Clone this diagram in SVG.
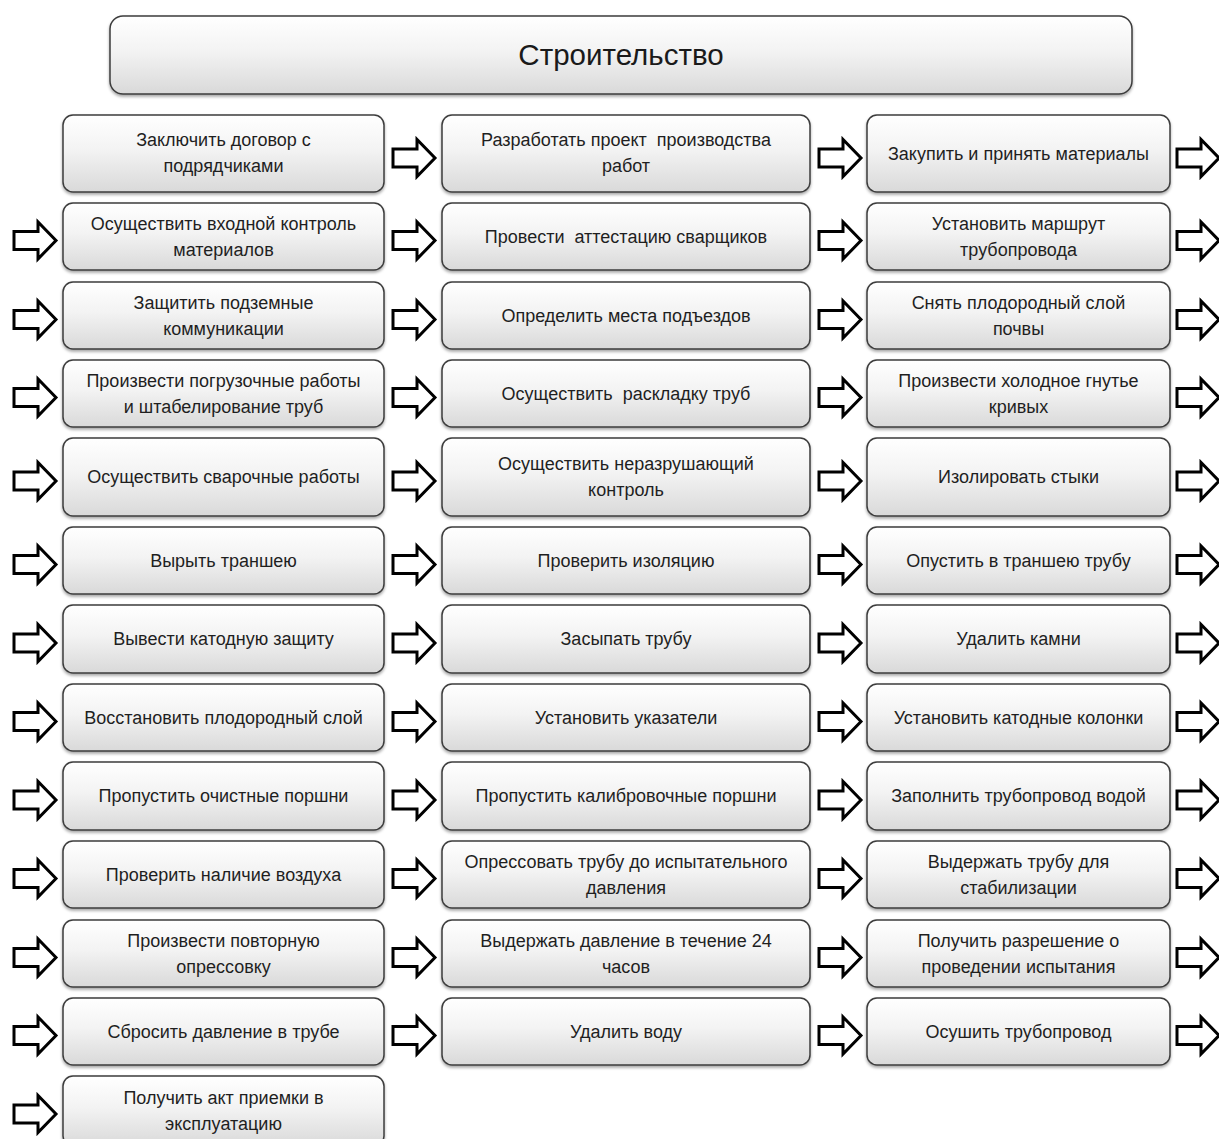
<svg xmlns="http://www.w3.org/2000/svg" xmlns:xlink="http://www.w3.org/1999/xlink" width="1219" height="1139" viewBox="0 0 1219 1139">
<defs>
<linearGradient id="g" x1="0" y1="0" x2="0" y2="1">
<stop offset="0" stop-color="#ffffff"/>
<stop offset="0.45" stop-color="#f3f3f3"/>
<stop offset="1" stop-color="#d9d9d9"/>
</linearGradient>
<filter id="sh" x="-5%" y="-10%" width="110%" height="125%">
<feDropShadow dx="0" dy="2" stdDeviation="1.5" flood-color="#000" flood-opacity="0.35"/>
</filter>
<path id="arr" d="M0,-9 H24 V-18.5 L42,0 L24,18.5 V9 H0 Z" fill="#fff" stroke="#000" stroke-width="3" stroke-linejoin="miter"/>
</defs>
<style>
.box{fill:url(#g);stroke:#3c3c3c;stroke-width:1.5;filter:url(#sh)}
.t{font-family:"Liberation Sans",Arial,sans-serif;font-size:18px;fill:#1f1f1f;text-anchor:middle}
.h{font-family:"Liberation Sans",Arial,sans-serif;font-size:29.5px;fill:#1a1a1a;text-anchor:middle}
</style>
<rect width="1219" height="1139" fill="#fff"/>

<g id="header"><rect class="box" x="110" y="16" width="1022" height="78" rx="13"/><text class="h" x="621" y="65">Строительство</text></g>

<g id="nodes">
<g id="n1-1"><rect class="box" x="63" y="115" width="321" height="77" rx="10"/><text class="t" x="223.5" y="146">Заключить договор с</text><text class="t" x="223.5" y="172">подрядчиками</text></g>
<g id="n1-2"><rect class="box" x="442" y="115" width="368" height="77" rx="10"/><text class="t" x="626" y="146" xml:space="preserve">Разработать проект  производства</text><text class="t" x="626" y="172">работ</text></g>
<g id="n1-3"><rect class="box" x="867" y="115" width="303" height="77" rx="10"/><text class="t" x="1018.5" y="159.5">Закупить и принять материалы</text></g>

<g id="n2-1"><rect class="box" x="63" y="203" width="321" height="67" rx="10"/><text class="t" x="223.5" y="229.5">Осуществить входной контроль</text><text class="t" x="223.5" y="255.5">материалов</text></g>
<g id="n2-2"><rect class="box" x="442" y="203" width="368" height="67" rx="10"/><text class="t" x="626" y="242.5" xml:space="preserve">Провести  аттестацию сварщиков</text></g>
<g id="n2-3"><rect class="box" x="867" y="203" width="303" height="67" rx="10"/><text class="t" x="1018.5" y="229.5">Установить маршрут</text><text class="t" x="1018.5" y="255.5">трубопровода</text></g>

<g id="n3-1"><rect class="box" x="63" y="282" width="321" height="67" rx="10"/><text class="t" x="223.5" y="308.5">Защитить подземные</text><text class="t" x="223.5" y="334.5">коммуникации</text></g>
<g id="n3-2"><rect class="box" x="442" y="282" width="368" height="67" rx="10"/><text class="t" x="626" y="321.5">Определить места подъездов</text></g>
<g id="n3-3"><rect class="box" x="867" y="282" width="303" height="67" rx="10"/><text class="t" x="1018.5" y="308.5">Снять плодородный слой</text><text class="t" x="1018.5" y="334.5">почвы</text></g>

<g id="n4-1"><rect class="box" x="63" y="360" width="321" height="67" rx="10"/><text class="t" x="223.5" y="386.5">Произвести погрузочные работы</text><text class="t" x="223.5" y="412.5">и штабелирование труб</text></g>
<g id="n4-2"><rect class="box" x="442" y="360" width="368" height="67" rx="10"/><text class="t" x="626" y="399.5" xml:space="preserve">Осуществить  раскладку труб</text></g>
<g id="n4-3"><rect class="box" x="867" y="360" width="303" height="67" rx="10"/><text class="t" x="1018.5" y="386.5">Произвести холодное гнутье</text><text class="t" x="1018.5" y="412.5">кривых</text></g>

<g id="n5-1"><rect class="box" x="63" y="438" width="321" height="78" rx="10"/><text class="t" x="223.5" y="483">Осуществить сварочные работы</text></g>
<g id="n5-2"><rect class="box" x="442" y="438" width="368" height="78" rx="10"/><text class="t" x="626" y="470">Осуществить неразрушающий</text><text class="t" x="626" y="496">контроль</text></g>
<g id="n5-3"><rect class="box" x="867" y="438" width="303" height="78" rx="10"/><text class="t" x="1018.5" y="483">Изолировать стыки</text></g>

<g id="n6-1"><rect class="box" x="63" y="527" width="321" height="67" rx="10"/><text class="t" x="223.5" y="566.5">Вырыть траншею</text></g>
<g id="n6-2"><rect class="box" x="442" y="527" width="368" height="67" rx="10"/><text class="t" x="626" y="566.5">Проверить изоляцию</text></g>
<g id="n6-3"><rect class="box" x="867" y="527" width="303" height="67" rx="10"/><text class="t" x="1018.5" y="566.5">Опустить в траншею трубу</text></g>

<g id="n7-1"><rect class="box" x="63" y="605" width="321" height="68" rx="10"/><text class="t" x="223.5" y="645">Вывести катодную защиту</text></g>
<g id="n7-2"><rect class="box" x="442" y="605" width="368" height="68" rx="10"/><text class="t" x="626" y="645">Засыпать трубу</text></g>
<g id="n7-3"><rect class="box" x="867" y="605" width="303" height="68" rx="10"/><text class="t" x="1018.5" y="645">Удалить камни</text></g>

<g id="n8-1"><rect class="box" x="63" y="684" width="321" height="67" rx="10"/><text class="t" x="223.5" y="723.5">Восстановить плодородный слой</text></g>
<g id="n8-2"><rect class="box" x="442" y="684" width="368" height="67" rx="10"/><text class="t" x="626" y="723.5">Установить указатели</text></g>
<g id="n8-3"><rect class="box" x="867" y="684" width="303" height="67" rx="10"/><text class="t" x="1018.5" y="723.5">Установить катодные колонки</text></g>

<g id="n9-1"><rect class="box" x="63" y="762" width="321" height="68" rx="10"/><text class="t" x="223.5" y="802">Пропустить очистные поршни</text></g>
<g id="n9-2"><rect class="box" x="442" y="762" width="368" height="68" rx="10"/><text class="t" x="626" y="802">Пропустить калибровочные поршни</text></g>
<g id="n9-3"><rect class="box" x="867" y="762" width="303" height="68" rx="10"/><text class="t" x="1018.5" y="802">Заполнить трубопровод водой</text></g>

<g id="n10-1"><rect class="box" x="63" y="841" width="321" height="67" rx="10"/><text class="t" x="223.5" y="880.5">Проверить наличие воздуха</text></g>
<g id="n10-2"><rect class="box" x="442" y="841" width="368" height="67" rx="10"/><text class="t" x="626" y="867.5">Опрессовать трубу до испытательного</text><text class="t" x="626" y="893.5">давления</text></g>
<g id="n10-3"><rect class="box" x="867" y="841" width="303" height="67" rx="10"/><text class="t" x="1018.5" y="867.5">Выдержать трубу для</text><text class="t" x="1018.5" y="893.5">стабилизации</text></g>

<g id="n11-1"><rect class="box" x="63" y="920" width="321" height="67" rx="10"/><text class="t" x="223.5" y="946.5">Произвести повторную</text><text class="t" x="223.5" y="972.5">опрессовку</text></g>
<g id="n11-2"><rect class="box" x="442" y="920" width="368" height="67" rx="10"/><text class="t" x="626" y="946.5">Выдержать давление в течение 24</text><text class="t" x="626" y="972.5">часов</text></g>
<g id="n11-3"><rect class="box" x="867" y="920" width="303" height="67" rx="10"/><text class="t" x="1018.5" y="946.5">Получить разрешение о</text><text class="t" x="1018.5" y="972.5">проведении испытания</text></g>

<g id="n12-1"><rect class="box" x="63" y="998" width="321" height="67" rx="10"/><text class="t" x="223.5" y="1037.5">Сбросить давление в трубе</text></g>
<g id="n12-2"><rect class="box" x="442" y="998" width="368" height="67" rx="10"/><text class="t" x="626" y="1037.5">Удалить воду</text></g>
<g id="n12-3"><rect class="box" x="867" y="998" width="303" height="67" rx="10"/><text class="t" x="1018.5" y="1037.5">Осушить трубопровод</text></g>

<g id="n13-1"><rect class="box" x="63" y="1076" width="321" height="70" rx="10"/><text class="t" x="223.5" y="1104">Получить акт приемки в</text><text class="t" x="223.5" y="1130">эксплуатацию</text></g>
</g>

<g id="connectors">
<use href="#arr" x="393" y="158"/><use href="#arr" x="819" y="158"/><use href="#arr" x="1177" y="158"/>
<use href="#arr" x="14" y="240.5"/><use href="#arr" x="393" y="240.5"/><use href="#arr" x="819" y="240.5"/><use href="#arr" x="1177" y="240.5"/>
<use href="#arr" x="14" y="319.5"/><use href="#arr" x="393" y="319.5"/><use href="#arr" x="819" y="319.5"/><use href="#arr" x="1177" y="319.5"/>
<use href="#arr" x="14" y="397.5"/><use href="#arr" x="393" y="397.5"/><use href="#arr" x="819" y="397.5"/><use href="#arr" x="1177" y="397.5"/>
<use href="#arr" x="14" y="481"/><use href="#arr" x="393" y="481"/><use href="#arr" x="819" y="481"/><use href="#arr" x="1177" y="481"/>
<use href="#arr" x="14" y="564.5"/><use href="#arr" x="393" y="564.5"/><use href="#arr" x="819" y="564.5"/><use href="#arr" x="1177" y="564.5"/>
<use href="#arr" x="14" y="643"/><use href="#arr" x="393" y="643"/><use href="#arr" x="819" y="643"/><use href="#arr" x="1177" y="643"/>
<use href="#arr" x="14" y="721.5"/><use href="#arr" x="393" y="721.5"/><use href="#arr" x="819" y="721.5"/><use href="#arr" x="1177" y="721.5"/>
<use href="#arr" x="14" y="800"/><use href="#arr" x="393" y="800"/><use href="#arr" x="819" y="800"/><use href="#arr" x="1177" y="800"/>
<use href="#arr" x="14" y="878.5"/><use href="#arr" x="393" y="878.5"/><use href="#arr" x="819" y="878.5"/><use href="#arr" x="1177" y="878.5"/>
<use href="#arr" x="14" y="957.5"/><use href="#arr" x="393" y="957.5"/><use href="#arr" x="819" y="957.5"/><use href="#arr" x="1177" y="957.5"/>
<use href="#arr" x="14" y="1035.5"/><use href="#arr" x="393" y="1035.5"/><use href="#arr" x="819" y="1035.5"/><use href="#arr" x="1177" y="1035.5"/>
<use href="#arr" x="14" y="1114"/>
</g>
</svg>
